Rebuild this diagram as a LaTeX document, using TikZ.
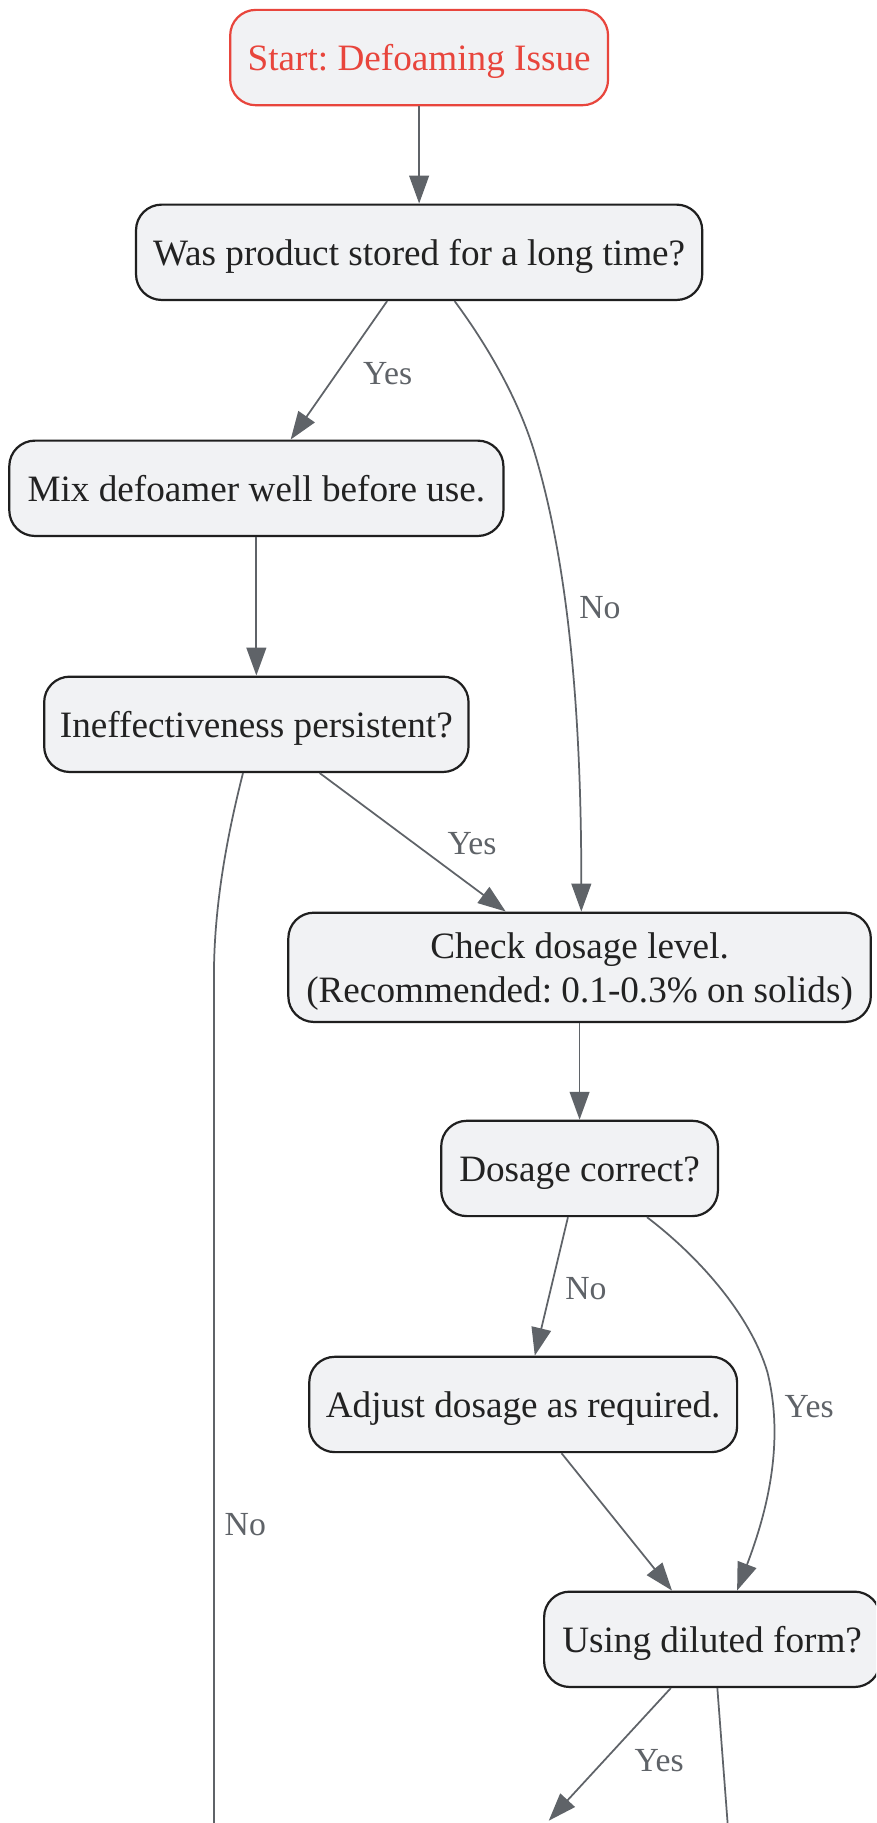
\documentclass[tikz,border=0pt]{standalone}
\usepackage{fontspec}
\setmainfont{Liberation Serif}
\usetikzlibrary{arrows.meta}
\frenchspacing
\definecolor{boxfill}{HTML}{F1F2F4}
\definecolor{boxline}{HTML}{1F1F1F}
\definecolor{textc}{HTML}{222222}
\definecolor{edgec}{HTML}{5F6368}
\definecolor{startred}{HTML}{E8453C}
\tikzset{
  boxbase/.style={draw=boxline, fill=boxfill, rounded corners=22pt, line width=1.9pt,
    minimum height=82pt, inner sep=0pt, align=center, text=textc,
    font=\fontsize{32}{38}\selectfont},
  box/.style={boxbase, text height=24pt, text depth=2pt},
  startbox/.style={box, draw=startred, text=startred},
  conn/.style={draw=edgec, line width=1.5pt, -{Triangle[length=24pt,width=17pt]}},
  plainconn/.style={draw=edgec, line width=1.5pt},
  elabel/.style={text=edgec, font=\fontsize{29}{34}\selectfont, inner sep=0pt}
}
\begin{document}
\begin{tikzpicture}[x=1pt,y=-1pt]
\clip (0,0) rectangle (753.5,1568);
\fill[white] (0,0) rectangle (753.5,1568);
% nodes
\node[startbox, minimum width=325pt] (start) at (360.5,49.5) {Start: Defoaming Issue};
\node[box, minimum width=487pt] (q1) at (360.5,217) {Was product stored for a long time?};
\node[box, minimum width=425pt] (mix) at (220.5,420) {Mix defoamer well before use.};
\node[box, minimum width=365pt] (ineff) at (220.5,623) {Ineffectiveness persistent?};
\node[boxbase, minimum width=501pt, minimum height=94pt] (check) at (498.5,832) {\rule{0pt}{30pt}Check dosage level.\\(Recommended: 0.1-0.3\% on solids)};
\node[box, minimum width=238pt] (dose) at (498.5,1005) {Dosage correct?};
\node[box, minimum width=368pt] (adjust) at (450,1208) {Adjust dosage as required.};
\node[box, minimum width=289pt] (using) at (612.5,1410) {Using diluted form?};
% free ends
\coordinate (noend) at (184,1600);
\coordinate (yesend) at (472,1566);
\coordinate (noend2) at (627.5,1590);
% edges
\draw[conn] (start.south) -- (q1.north);
\draw[conn] ([xshift=-27.5pt]q1.south) -- ([xshift=29.5pt]mix.north);
\draw[conn] ([xshift=30.5pt]q1.south) .. controls (425,305) and (448,350) .. (460,390)
  .. controls (490,490) and (500,620) .. ([xshift=1.5pt]check.north);
\draw[conn] (mix.south) -- (ineff.north);
\draw[conn] ([xshift=54.5pt]ineff.south) -- ([xshift=-63.5pt]check.north);
\draw[plainconn] ([xshift=-11.5pt]ineff.south) .. controls (195,720) and (184,780) .. (184,840) -- (noend);
\draw[conn] (check.south) -- (dose.north);
\draw[conn] ([xshift=-10pt]dose.south) -- ([xshift=10pt]adjust.north);
\draw[conn] ([xshift=58pt]dose.south) .. controls (600,1080) and (645,1130) .. (660,1180)
  .. controls (675,1240) and (660,1300) .. ([xshift=21.5pt]using.north);
\draw[conn] ([xshift=33pt]adjust.south) -- ([xshift=-34.5pt]using.north);
\draw[conn] ([xshift=-35.5pt]using.south) -- (yesend);
\draw[plainconn] ([xshift=4.5pt]using.south) -- (noend2);
% edge labels
\node[elabel] (l1) at (333.5,321) {Yes};
\node[elabel] (l2) at (516,523) {No};
\node[elabel] (l3) at (406,726) {Yes};
\node[elabel] (l4) at (211,1311) {No};
\node[elabel] (l5) at (504,1108) {No};
\node[elabel] (l6) at (696,1210) {Yes};
\node[elabel] (l7) at (567,1514) {Yes};
\end{tikzpicture}
\end{document}
